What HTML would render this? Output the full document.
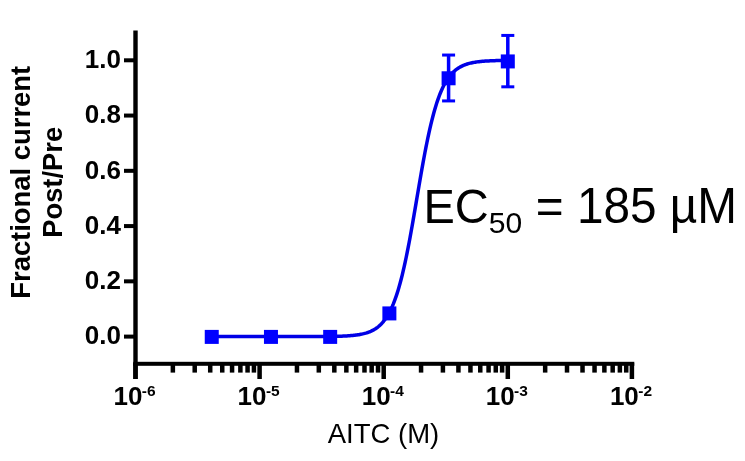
<!DOCTYPE html>
<html><head><meta charset="utf-8"><style>
html,body{margin:0;padding:0;width:745px;height:461px;overflow:hidden;background:#fff;}
body{position:relative;font-family:"Liberation Sans",sans-serif;}
</style></head><body>
<svg width="745" height="461" viewBox="0 0 745 461" style="position:absolute;left:0;top:0;will-change:transform"><g fill="#000"><rect x="133.3" y="30.5" width="4.4" height="348.5"/><rect x="124" y="334.60" width="10" height="4"/><rect x="124" y="279.34" width="10" height="4"/><rect x="124" y="224.08" width="10" height="4"/><rect x="124" y="168.82" width="10" height="4"/><rect x="124" y="113.56" width="10" height="4"/><rect x="124" y="58.30" width="10" height="4"/><rect x="133.3" y="361.8" width="501" height="4"/><rect x="133.25" y="363" width="4.5" height="16"/><rect x="170.61" y="363" width="4.5" height="9.6"/><rect x="192.46" y="363" width="4.5" height="9.6"/><rect x="207.97" y="363" width="4.5" height="9.6"/><rect x="219.99" y="363" width="4.5" height="9.6"/><rect x="229.82" y="363" width="4.5" height="9.6"/><rect x="238.13" y="363" width="4.5" height="9.6"/><rect x="245.32" y="363" width="4.5" height="9.6"/><rect x="251.67" y="363" width="4.5" height="9.6"/><rect x="257.35" y="363" width="4.5" height="16"/><rect x="294.71" y="363" width="4.5" height="9.6"/><rect x="316.56" y="363" width="4.5" height="9.6"/><rect x="332.07" y="363" width="4.5" height="9.6"/><rect x="344.09" y="363" width="4.5" height="9.6"/><rect x="353.92" y="363" width="4.5" height="9.6"/><rect x="362.23" y="363" width="4.5" height="9.6"/><rect x="369.42" y="363" width="4.5" height="9.6"/><rect x="375.77" y="363" width="4.5" height="9.6"/><rect x="381.45" y="363" width="4.5" height="16"/><rect x="418.81" y="363" width="4.5" height="9.6"/><rect x="440.66" y="363" width="4.5" height="9.6"/><rect x="456.17" y="363" width="4.5" height="9.6"/><rect x="468.19" y="363" width="4.5" height="9.6"/><rect x="478.02" y="363" width="4.5" height="9.6"/><rect x="486.33" y="363" width="4.5" height="9.6"/><rect x="493.52" y="363" width="4.5" height="9.6"/><rect x="499.87" y="363" width="4.5" height="9.6"/><rect x="505.55" y="363" width="4.5" height="16"/><rect x="542.91" y="363" width="4.5" height="9.6"/><rect x="564.76" y="363" width="4.5" height="9.6"/><rect x="580.27" y="363" width="4.5" height="9.6"/><rect x="592.29" y="363" width="4.5" height="9.6"/><rect x="602.12" y="363" width="4.5" height="9.6"/><rect x="610.43" y="363" width="4.5" height="9.6"/><rect x="617.62" y="363" width="4.5" height="9.6"/><rect x="623.97" y="363" width="4.5" height="9.6"/><rect x="629.65" y="363" width="4.5" height="16"/></g><g font-family="Liberation Sans, sans-serif" font-weight="bold" font-size="26" fill="#000" text-anchor="end"><text x="121" y="344.40">0.0</text><text x="121" y="289.14">0.2</text><text x="121" y="233.88">0.4</text><text x="121" y="178.62">0.6</text><text x="121" y="123.36">0.8</text><text x="121" y="68.10">1.0</text></g><g font-family="Liberation Sans, sans-serif" font-weight="bold" fill="#000"><text x="113.50" y="405" font-size="26">10<tspan font-size="15.5" dx="-0.6" dy="-9">-6</tspan></text><text x="237.60" y="405" font-size="26">10<tspan font-size="15.5" dx="-0.6" dy="-9">-5</tspan></text><text x="361.70" y="405" font-size="26">10<tspan font-size="15.5" dx="-0.6" dy="-9">-4</tspan></text><text x="485.80" y="405" font-size="26">10<tspan font-size="15.5" dx="-0.6" dy="-9">-3</tspan></text><text x="609.90" y="405" font-size="26">10<tspan font-size="15.5" dx="-0.6" dy="-9">-2</tspan></text></g><g font-family="Liberation Sans, sans-serif" font-weight="bold" font-size="27" fill="#000" text-anchor="middle"><text transform="translate(29.7,182.3) rotate(-90)" font-size="27.4">Fractional current</text><text transform="translate(61.8,182.3) rotate(-90)" font-size="27.4">Post/Pre</text></g><text x="383.5" y="443" font-family="Liberation Sans, sans-serif" font-size="27.5" text-anchor="middle" fill="#000">AITC (M)</text><g font-family="Liberation Sans, sans-serif" fill="#000"><text x="423.4" y="223" font-size="47" transform="translate(0,223) scale(1,1.025) translate(0,-223)">EC</text><text x="488.8" y="233" font-size="30">50</text><text x="535.8" y="223" font-size="47.7" transform="translate(0,223) scale(1,1.03) translate(0,-223)">= 185 µM</text></g><polyline fill="none" stroke="#0000e6" stroke-width="3.5" stroke-linejoin="round" points="211.75,336.60 212.73,336.60 213.72,336.60 214.71,336.60 215.69,336.60 216.68,336.60 217.67,336.60 218.65,336.60 219.64,336.60 220.63,336.60 221.61,336.60 222.60,336.60 223.59,336.60 224.58,336.60 225.56,336.60 226.55,336.60 227.54,336.60 228.52,336.60 229.51,336.60 230.50,336.60 231.48,336.60 232.47,336.60 233.46,336.60 234.44,336.60 235.43,336.60 236.42,336.60 237.40,336.60 238.39,336.60 239.38,336.60 240.36,336.60 241.35,336.60 242.34,336.60 243.33,336.60 244.31,336.60 245.30,336.60 246.29,336.60 247.27,336.60 248.26,336.60 249.25,336.60 250.23,336.60 251.22,336.60 252.21,336.60 253.19,336.60 254.18,336.60 255.17,336.60 256.15,336.60 257.14,336.60 258.13,336.60 259.11,336.60 260.10,336.60 261.09,336.60 262.08,336.60 263.06,336.60 264.05,336.60 265.04,336.60 266.02,336.60 267.01,336.60 268.00,336.60 268.98,336.60 269.97,336.60 270.96,336.60 271.94,336.60 272.93,336.60 273.92,336.60 274.90,336.60 275.89,336.60 276.88,336.60 277.86,336.60 278.85,336.60 279.84,336.60 280.83,336.60 281.81,336.60 282.80,336.60 283.79,336.60 284.77,336.60 285.76,336.60 286.75,336.60 287.73,336.60 288.72,336.60 289.71,336.59 290.69,336.59 291.68,336.59 292.67,336.59 293.65,336.59 294.64,336.59 295.63,336.59 296.61,336.59 297.60,336.59 298.59,336.59 299.58,336.59 300.56,336.59 301.55,336.59 302.54,336.58 303.52,336.58 304.51,336.58 305.50,336.58 306.48,336.58 307.47,336.58 308.46,336.57 309.44,336.57 310.43,336.57 311.42,336.57 312.40,336.56 313.39,336.56 314.38,336.56 315.37,336.55 316.35,336.55 317.34,336.54 318.33,336.54 319.31,336.53 320.30,336.53 321.29,336.52 322.27,336.51 323.26,336.51 324.25,336.50 325.23,336.49 326.22,336.48 327.21,336.47 328.19,336.46 329.18,336.44 330.17,336.43 331.15,336.42 332.14,336.40 333.13,336.38 334.12,336.36 335.10,336.34 336.09,336.32 337.08,336.30 338.06,336.27 339.05,336.24 340.04,336.21 341.02,336.17 342.01,336.14 343.00,336.10 343.98,336.05 344.97,336.00 345.96,335.95 346.94,335.89 347.93,335.83 348.92,335.76 349.90,335.69 350.89,335.61 351.88,335.53 352.87,335.43 353.85,335.33 354.84,335.22 355.83,335.10 356.81,334.97 357.80,334.82 358.79,334.67 359.77,334.50 360.76,334.32 361.75,334.12 362.73,333.90 363.72,333.67 364.71,333.41 365.69,333.14 366.68,332.84 367.67,332.51 368.65,332.16 369.64,331.77 370.63,331.36 371.62,330.91 372.60,330.42 373.59,329.89 374.58,329.31 375.56,328.69 376.55,328.02 377.54,327.29 378.52,326.50 379.51,325.65 380.50,324.73 381.48,323.73 382.47,322.66 383.46,321.50 384.44,320.25 385.43,318.91 386.42,317.46 387.40,315.90 388.39,314.23 389.38,312.44 390.37,310.52 391.35,308.46 392.34,306.25 393.33,303.90 394.31,301.40 395.30,298.73 396.29,295.89 397.27,292.88 398.26,289.69 399.25,286.32 400.23,282.76 401.22,279.01 402.21,275.08 403.19,270.96 404.18,266.65 405.17,262.16 406.15,257.49 407.14,252.65 408.13,247.65 409.12,242.49 410.10,237.20 411.09,231.78 412.08,226.25 413.06,220.62 414.05,214.92 415.04,209.16 416.02,203.36 417.01,197.54 418.00,191.73 418.98,185.94 419.97,180.19 420.96,174.51 421.94,168.91 422.93,163.41 423.92,158.03 424.90,152.78 425.89,147.67 426.88,142.72 427.87,137.93 428.85,133.32 429.84,128.88 430.83,124.63 431.81,120.57 432.80,116.70 433.79,113.01 434.77,109.51 435.76,106.20 436.75,103.06 437.73,100.11 438.72,97.32 439.71,94.70 440.69,92.25 441.68,89.94 442.67,87.79 443.66,85.77 444.64,83.89 445.63,82.13 446.62,80.50 447.60,78.98 448.59,77.56 449.58,76.25 450.56,75.03 451.55,73.90 452.54,72.85 453.52,71.88 454.51,70.98 455.50,70.15 456.48,69.38 457.47,68.67 458.46,68.01 459.44,67.40 460.43,66.84 461.42,66.33 462.41,65.85 463.39,65.41 464.38,65.00 465.37,64.63 466.35,64.28 467.34,63.97 468.33,63.67 469.31,63.40 470.30,63.16 471.29,62.93 472.27,62.72 473.26,62.52 474.25,62.35 475.23,62.18 476.22,62.03 477.21,61.89 478.19,61.76 479.18,61.65 480.17,61.54 481.16,61.44 482.14,61.35 483.13,61.26 484.12,61.18 485.10,61.11 486.09,61.05 487.08,60.99 488.06,60.93 489.05,60.88 490.04,60.83 491.02,60.79 492.01,60.75 493.00,60.72 493.98,60.68 494.97,60.65 495.96,60.62 496.94,60.60 497.93,60.57 498.92,60.55 499.91,60.53 500.89,60.51 501.88,60.49 502.87,60.48 503.85,60.46 504.84,60.45 505.83,60.44 506.81,60.43 507.80,60.42"/><g fill="#0000ff"><rect x="204.75" y="329.90" width="14" height="14"/><rect x="263.96" y="329.90" width="14" height="14"/><rect x="323.17" y="329.90" width="14" height="14"/><rect x="382.38" y="306.41" width="14" height="14"/><rect x="446.84" y="55.05" width="3.5" height="45.87"/><rect x="442.09" y="53.55" width="13" height="3"/><rect x="442.09" y="99.42" width="13" height="3"/><rect x="441.59" y="71.28" width="14" height="14"/><rect x="506.05" y="35.43" width="3.5" height="51.39"/><rect x="501.30" y="33.93" width="13" height="3"/><rect x="501.30" y="85.32" width="13" height="3"/><rect x="500.80" y="54.43" width="14" height="14"/></g></svg>
</body></html>
